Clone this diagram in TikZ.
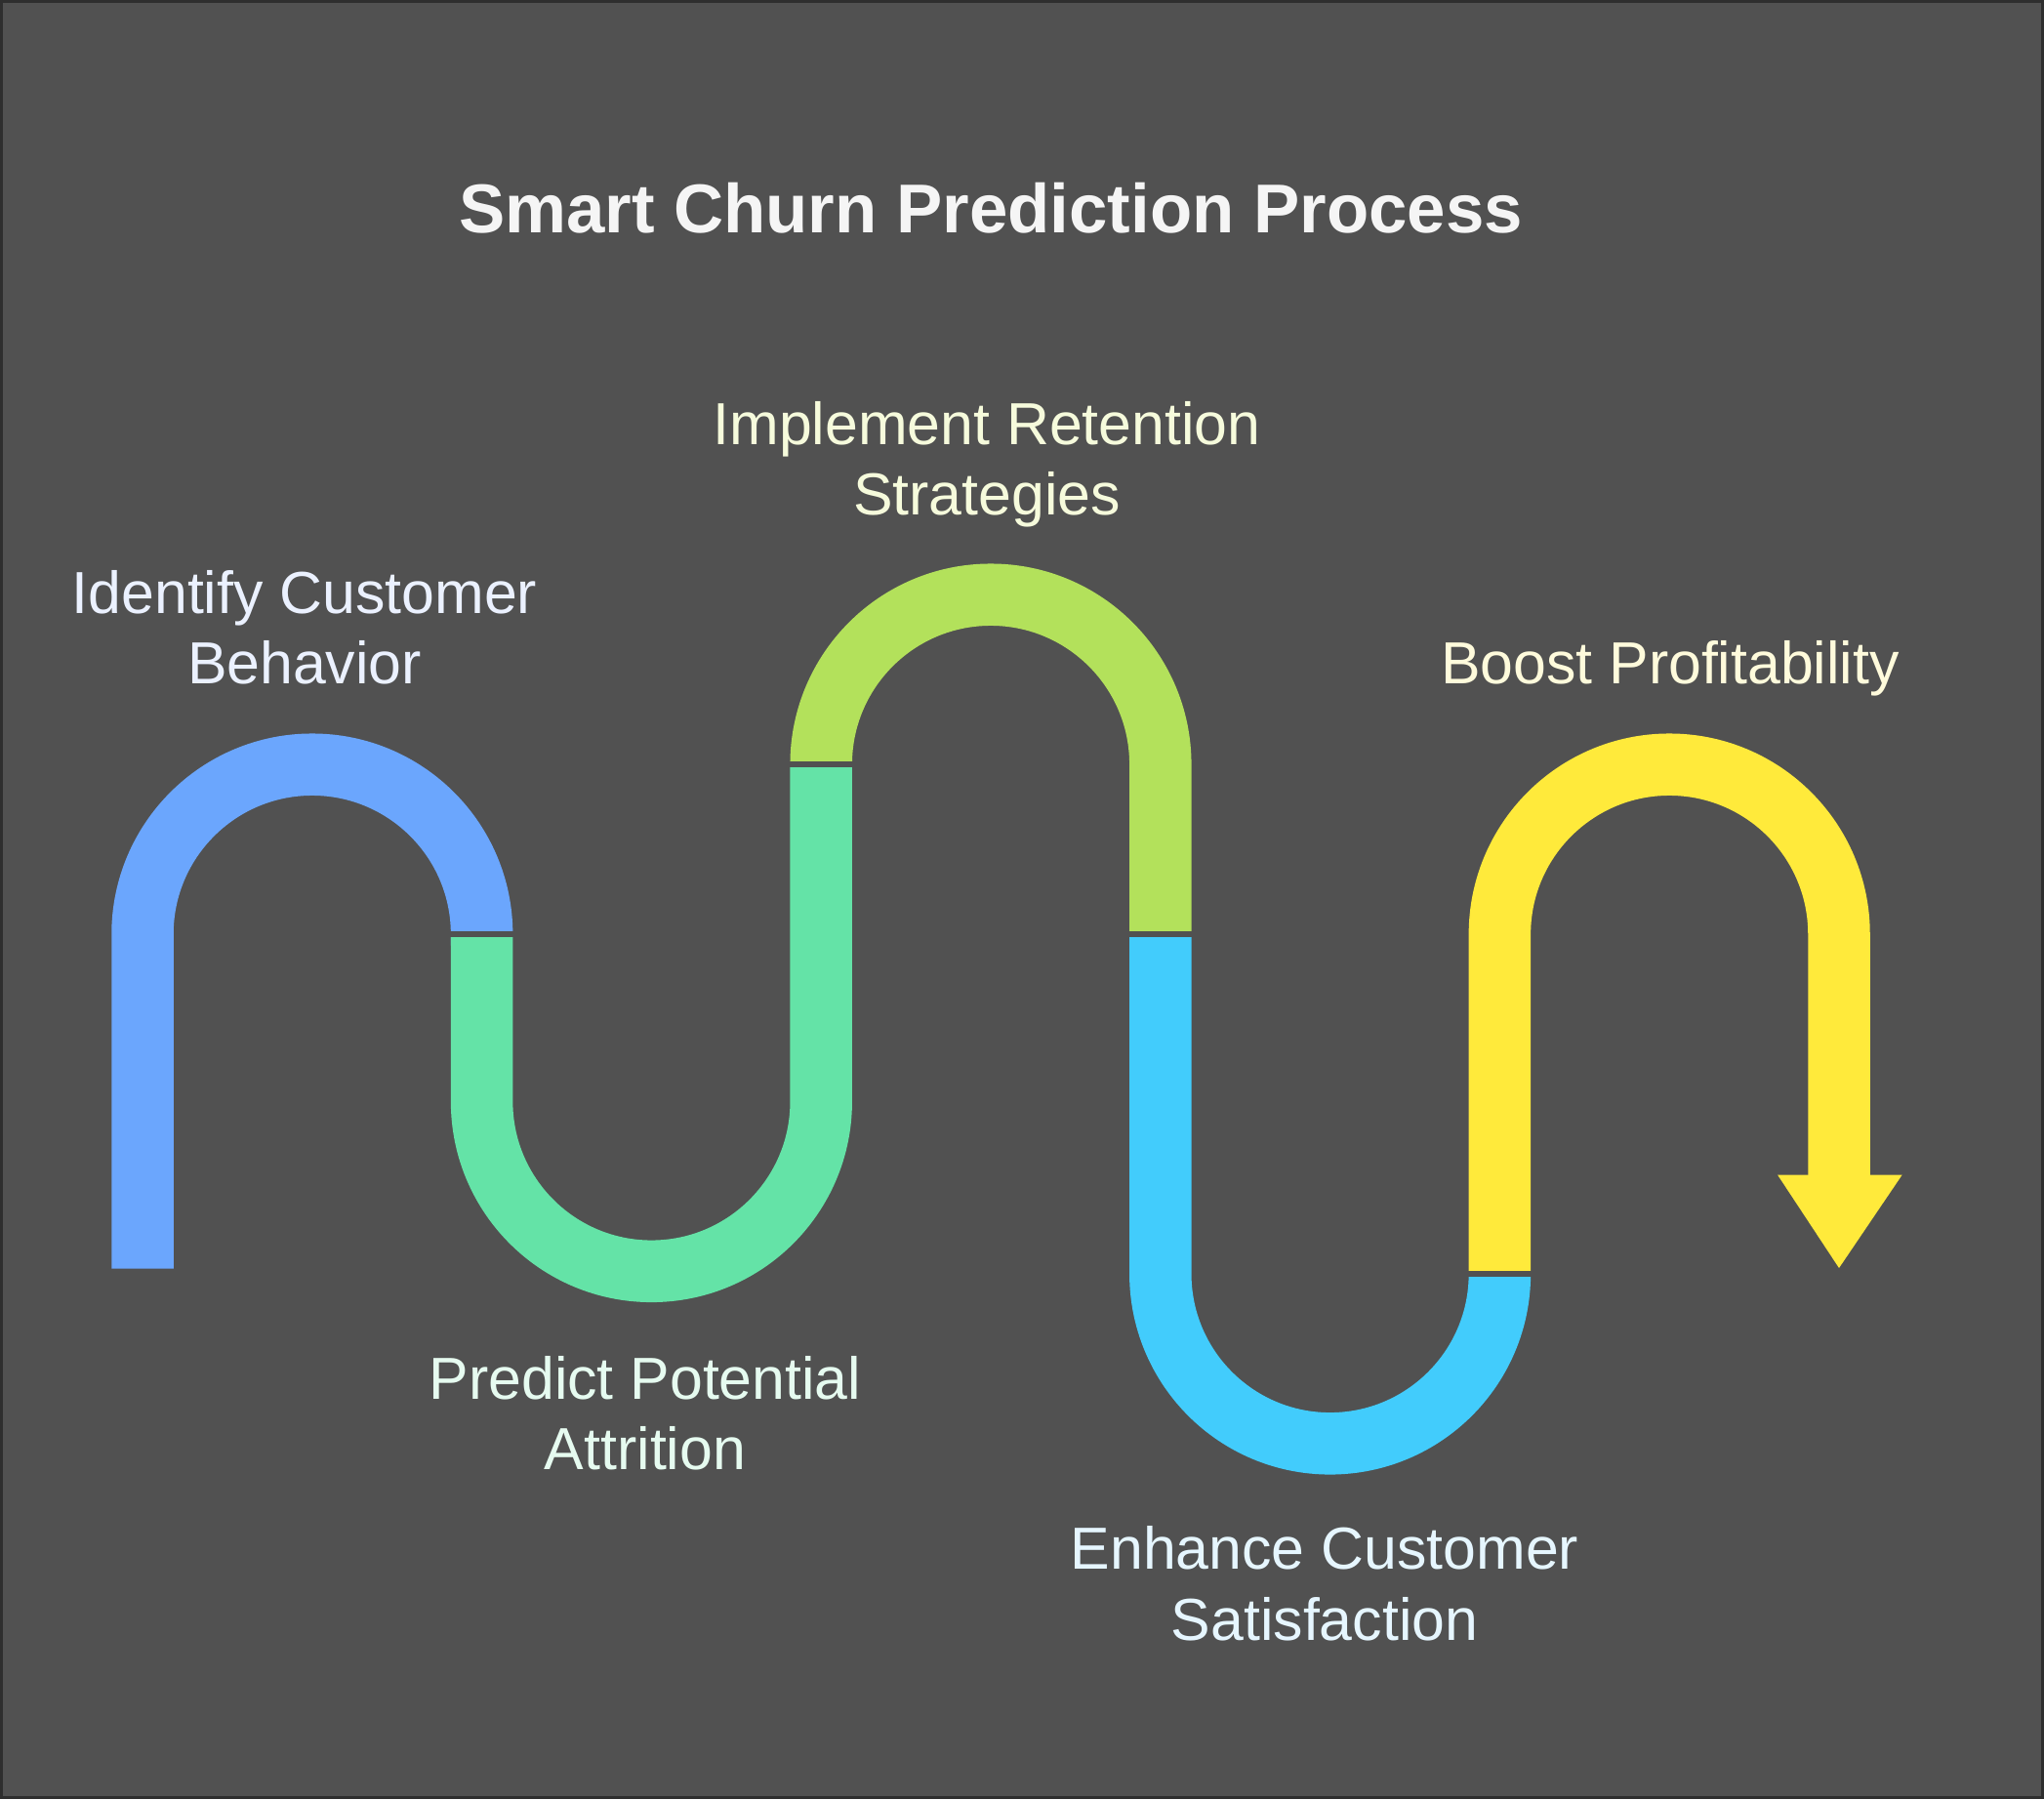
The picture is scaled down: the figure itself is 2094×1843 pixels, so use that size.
\documentclass[tikz,border=0pt]{standalone}
\usepackage{fontspec}
\setmainfont{Liberation Sans}
\begin{document}
\definecolor{bgcol}{HTML}{515151}
\definecolor{framecol}{HTML}{2E2E2E}
\definecolor{cblue}{HTML}{6BA6FD}
\definecolor{cgreen}{HTML}{64E3A7}
\definecolor{clime}{HTML}{B3E15B}
\definecolor{ccyan}{HTML}{42CCFC}
\definecolor{cyellow}{HTML}{FFEA3B}
\definecolor{tblue}{HTML}{EBF1FF}
\definecolor{tgreen}{HTML}{E6FBF0}
\definecolor{tlime}{HTML}{F6FBDC}
\definecolor{tcyan}{HTML}{E6F6FF}
\definecolor{tyellow}{HTML}{FFFBDC}
\begin{tikzpicture}[x=0.5pt,y=-0.5pt,
  band/.style={line width=31.75pt,line cap=butt,line join=miter},
  gapline/.style={draw=bgcol,line width=3pt},
  label/.style={anchor=base,inner sep=0pt,font=\fontsize{30.4}{36}\selectfont},
  titletext/.style={anchor=base,inner sep=0pt,text=white!96!black,font=\fontsize{35.4}{42}\selectfont\bfseries}]
  % canvas and frame
  \useasboundingbox (0,0) rectangle (2094,1843);
  \fill[bgcol] (0,0) rectangle (2094,1843);
  \draw[framecol,line width=1.5pt] (1.5,1.5) rectangle (2092.5,1841.5);

  % title
  \node[titletext] (title) at (1015,238) {Smart Churn Prediction Process};

  % winding band, one colour per stage
  \draw[band,cblue] (146,1299.5) -- (146,957) arc(180:360:173.8) -- (493.6,957);
  \draw[band,cgreen] (493.6,957) -- (493.6,1128.5) arc(180:0:173.8) -- (841.2,783);
  \draw[band,clime] (841.2,783) arc(180:360:173.8) -- (1188.8,957);
  \draw[band,ccyan] (1188.8,957) -- (1188.8,1305) arc(180:0:173.8);
  \draw[band,cyellow] (1536.4,1305) -- (1536.4,957) arc(180:360:173.8) -- (1884,1204);
  \fill[cyellow] (1821,1203.5) -- (1948.7,1203.5) -- (1884,1299) -- cycle;

  % thin separators between stages
  \draw[gapline] (455,957) -- (532,957);
  \draw[gapline] (802,783) -- (880,783);
  \draw[gapline] (1150,957) -- (1228,957);
  \draw[gapline] (1497,1305) -- (1575,1305);

  % stage labels
  \node[label,text=tblue] (s1a) at (312,628) {Identify Customer};
  \node[label,text=tblue] (s1b) at (312,700) {Behavior};
  \node[label,text=tgreen] (s2a) at (661,1433) {Predict Potential};
  \node[label,text=tgreen] (s2b) at (661,1505) {Attrition};
  \node[label,text=tlime] (s3a) at (1011,455) {Implement Retention};
  \node[label,text=tlime] (s3b) at (1011,527) {Strategies};
  \node[label,text=tcyan] (s4a) at (1357,1607.5) {Enhance Customer};
  \node[label,text=tcyan] (s4b) at (1357,1680) {Satisfaction};
  \node[label,text=tyellow] (s5) at (1711,700.5) {Boost Profitability};
\end{tikzpicture}
\end{document}
